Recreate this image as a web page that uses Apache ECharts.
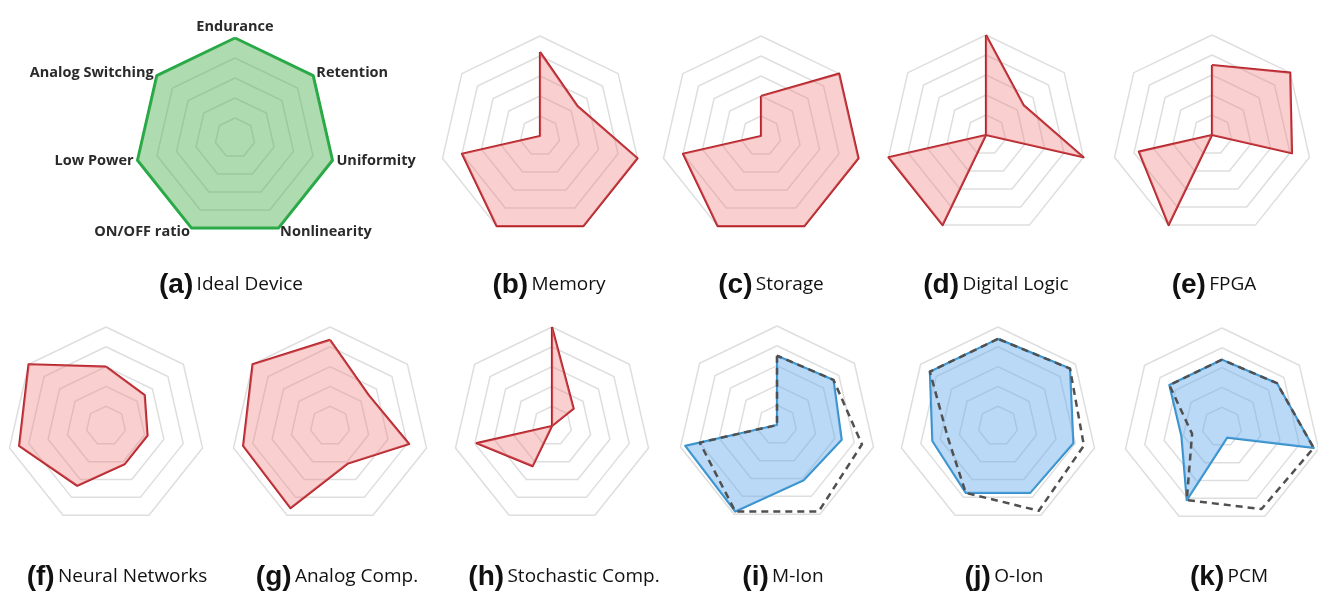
<!DOCTYPE html>
<html>
<head>
<meta charset="utf-8">
<title>Device requirement radar charts</title>
<script src="https://cdn.jsdelivr.net/npm/echarts@6/dist/echarts.min.js"></script>
<style>
  html, body { margin: 0; padding: 0; background: #ffffff; }
  #chart { width: 1318px; height: 591px; }
</style>
</head>
<body>
<div id="chart"></div>
<script>
// Axes, listed clockwise starting from the top
const axes = ['Endurance', 'Retention', 'Uniformity', 'Nonlinearity', 'ON/OFF ratio', 'Low Power', 'Analog Switching'];

// Panel captions
const letters = ['(a)', '(b)', '(c)', '(d)', '(e)', '(f)', '(g)', '(h)', '(i)', '(j)', '(k)'];
const names = ['Ideal Device', 'Memory', 'Storage', 'Digital Logic', 'FPGA',
  'Neural Networks', 'Analog Comp.', 'Stochastic Comp.', 'M-Ion', 'O-Ion', 'PCM'];

// Scores (0 to 1), clockwise order as in `axes`
const ideal      = [1, 1, 1, 1, 1, 1, 1];
const memory     = [0.84, 0.48, 1.0, 1.0, 1.0, 0.8, 0];
const storage    = [0.4, 1.0, 1.0, 1.0, 1.0, 0.8, 0];
const digital    = [1.0, 0.48, 1.0, 0, 1.0, 1.0, 0];
const fpga       = [0.7, 1.0, 0.82, 0, 1.0, 0.75, 0];
const neural     = [0.6, 0.5, 0.43, 0.43, 0.67, 0.9, 1.0];
const analog     = [0.87, 0.5, 0.82, 0.42, 0.92, 0.9, 1.0];
const stochastic = [1.0, 0.28, 0, 0, 0.45, 0.78, 0];
const mIon       = [0.7, 0.73, 0.67, 0.62, 0.97, 0.95, 0];
const mIonRef    = [0.7, 0.73, 0.88, 0.97, 0.97, 0.8, 0];
const oIon       = [0.88, 0.93, 0.78, 0.75, 0.75, 0.68, 0.88];
const oIonRef    = [0.88, 0.93, 0.89, 0.95, 0.75, 0.52, 0.88];
const pcm        = [0.68, 0.71, 0.95, 0.12, 0.82, 0.42, 0.68];
const pcmRef     = [0.68, 0.71, 0.95, 0.92, 0.82, 0.31, 0.68];

// ECharts lays radar indicators out counter-clockwise; reorder so the
// first axis stays on top and the rest run clockwise.
const ccw = arr => [arr[0]].concat(arr.slice(1).reverse());

const panels = [
  { center: [235, 138], r: 100, caption: [231, 285], kind: 'ideal', values: [ideal] },
  { center: [540, 136], r: 100, caption: [549, 285], kind: 'red', values: [memory] },
  { center: [761, 136], r: 100, caption: [771, 285], kind: 'red', values: [storage] },
  { center: [986, 135], r: 100, caption: [996, 285], kind: 'red', values: [digital] },
  { center: [1212, 135], r: 100, caption: [1214, 285], kind: 'red', values: [fpga] },
  { center: [106, 426], r: 99, caption: [117, 577], kind: 'red', values: [neural] },
  { center: [330, 426], r: 99, caption: [337, 577], kind: 'red', values: [analog] },
  { center: [552, 426], r: 99, caption: [564, 577], kind: 'red', values: [stochastic] },
  { center: [777, 425], r: 99, caption: [783, 577], kind: 'blue', values: [mIonRef, mIon] },
  { center: [998, 426], r: 99, caption: [1004, 577], kind: 'blue', values: [oIonRef, oIon] },
  { center: [1222, 427], r: 99, caption: [1229, 577], kind: 'blue', values: [pcmRef, pcm] }
];

const styles = {
  ideal: { line: '#22a845', width: 3, fill: 'rgba(76,175,80,0.45)' },
  red:   { line: '#b3232a', width: 2.2, fill: 'rgba(240,128,128,0.38)' },
  blue:  { line: '#3590c8', width: 2.2, fill: 'rgba(100,170,235,0.45)' },
  ref:   { line: '#505050', width: 2.5 }
};

const radar = panels.map((p, i) => ({
  center: p.center,
  radius: p.r,
  startAngle: 90,
  shape: 'polygon',
  splitNumber: 5,
  indicator: ccw(axes).map(name => ({ name: name, min: 0, max: 1 })),
  axisName: i === 0 ? {
    show: true,
    color: '#2a2a2a',
    fontSize: 14.5,
    fontWeight: 'bold',
    fontFamily: 'Open Sans'
  } : { show: false },
  nameGap: 4,
  axisLine: { show: false },
  axisTick: { show: false },
  axisLabel: { show: false },
  splitArea: { show: false },
  splitLine: { lineStyle: { color: '#dedede', width: 1.5 } }
}));

const series = panels.map((p, i) => {
  const st = styles[p.kind];
  const data = p.values.map((v, k) => {
    const isRef = p.values.length === 2 && k === 0;
    return isRef ? {
      value: ccw(v),
      lineStyle: { color: styles.ref.line, width: styles.ref.width, type: [7, 5] },
      areaStyle: { opacity: 0 }
    } : {
      value: ccw(v),
      lineStyle: { color: st.line, width: st.width },
      areaStyle: { color: st.fill, opacity: 1 }
    };
  });
  return {
    type: 'radar',
    radarIndex: i,
    symbol: 'none',
    silent: true,
    animation: false,
    data: p.values.length === 2 ? [data[1], data[0]] : data
  };
});

const captions = panels.map((p, i) => ({
  type: 'text',
  x: p.caption[0],
  y: p.caption[1],
  style: {
    text: '{l|' + letters[i] + '} {n|' + names[i] + '}',
    align: 'center',
    verticalAlign: 'middle',
    rich: {
      l: { fontFamily: 'Liberation Sans', fontWeight: 'bold', fontSize: 28, fill: '#111111' },
      n: { fontFamily: 'Open Sans', fontSize: 19, fill: '#111111' }
    }
  }
}));

const chart = echarts.init(document.getElementById('chart'), null, { renderer: 'canvas' });
chart.setOption({
  backgroundColor: '#ffffff',
  animation: false,
  radar: radar,
  series: series,
  graphic: captions
});
</script>
</body>
</html>
